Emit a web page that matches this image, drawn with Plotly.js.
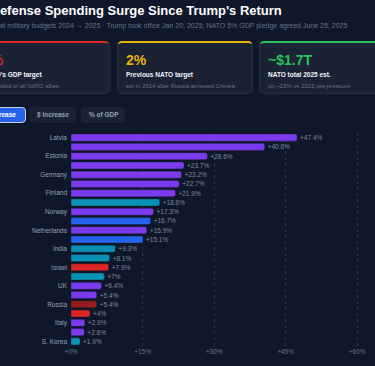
<!DOCTYPE html>
<html><head><meta charset="utf-8">
<script src="https://cdn.plot.ly/plotly-3.0.1.min.js"></script>
<style>
html,body{margin:0;padding:0;background:#0f172a;width:375px;height:366px;overflow:hidden;font-family:"Liberation Sans",Arial,sans-serif;}
#wrap{position:absolute;left:0;top:0;width:375px;height:366px;overflow:hidden;}
.title{position:absolute;left:-9.5px;top:3px;white-space:nowrap;color:#fff;font-weight:700;font-size:13px;line-height:16px;}
.sub{position:absolute;left:-9px;top:21px;white-space:nowrap;color:#64748b;font-size:7px;line-height:9px;}
.card{position:absolute;top:41px;width:136px;height:53px;box-sizing:border-box;background:#1a2234;border:1px solid #243044;border-radius:5px;}
.card .v{position:absolute;left:8px;top:9px;font-size:14px;font-weight:700;white-space:nowrap;line-height:16px;}
.card .l{position:absolute;left:8px;top:28px;font-size:6.5px;font-weight:700;color:#f1f5f9;white-space:nowrap;line-height:8px;}
.card .s{position:absolute;left:8px;top:39px;font-size:6px;color:#64748b;white-space:nowrap;line-height:8px;}
.btn{position:absolute;top:107px;height:16px;box-sizing:border-box;border-radius:4px;background:#1a2234;color:#94a3b8;font-size:6.5px;font-weight:700;line-height:16px;padding:0 8px;white-space:nowrap;}
.btn.on{background:#2563eb;color:#fff;border:1px solid #cbd5e1;line-height:14px;padding:0 7px;}
#chart{position:absolute;left:-29px;top:128px;width:430px;height:238px;}
</style></head>
<body><div id="wrap">
<div class="title">Defense Spending Surge Since Trump's Return</div>
<div class="sub">Real military budgets 2024 → 2025 · Trump took office Jan 20, 2025; NATO 5% GDP pledge agreed June 25, 2025</div>
<div class="card" style="left:-26px;border-top:2px solid #dc2626;"><div class="v" style="color:#dc2626">5%</div><div class="l">NATO's GDP target</div><div class="s">demanded of all NATO allies</div></div>
<div class="card" style="left:117px;border-top:2px solid #eab308;"><div class="v" style="color:#eab308">2%</div><div class="l">Previous NATO target</div><div class="s">set in 2014 after Russia annexed Crimea</div></div>
<div class="card" style="left:259px;border-top:2px solid #22c55e;"><div class="v" style="color:#22c55e">~$1.7T</div><div class="l">NATO total 2025 est.</div><div class="s">up ~22% vs 2022 pre-pressure</div></div>
<div class="btn on" style="left:-26px;width:52px;">% Increase</div>
<div class="btn" style="left:29px;width:47px;">$ Increase</div>
<div class="btn" style="left:81px;width:44px;">% of GDP</div>
<div id="chart"></div>
</div>
<script>
var countries = ["Latvia","Lithuania","Estonia","Poland","Germany","Sweden","Finland","Japan","Norway","Canada","Netherlands","USA","India","China","Israel","Australia","UK","France","Russia","Saudi Arabia","Italy","Spain","S. Korea"];
var increasePct = [47.4,40.6,28.6,23.7,23.2,22.7,21.9,18.6,17.3,16.7,15.9,15.1,9.3,8.1,7.9,7.0,6.4,5.4,5.4,4.0,2.9,2.8,1.9];
var groups = ["NATO Europe","NATO Europe","NATO Europe","NATO Europe","NATO Europe","NATO Europe","NATO Europe","Asia-Pacific","NATO Europe","NATO North America","NATO Europe","NATO North America","Asia-Pacific","Asia-Pacific","Middle East","Asia-Pacific","NATO Europe","NATO Europe","Russia","Middle East","NATO Europe","NATO Europe","Asia-Pacific"];
var groupColors = {"NATO Europe":"#7c3aed","NATO North America":"#2563eb","Asia-Pacific":"#0891b2","Middle East":"#dc2626","Russia":"#991b1b"};
var xTickPrefix = "+", xTickSuffix = "%";

Plotly.newPlot("chart", [{
  type: "bar", orientation: "h",
  x: increasePct, y: countries,
  marker: {color: groups.map(function(g){return groupColors[g];}), cornerradius: 2,
           line: {width: 0.6, color: "rgba(15,23,42,0.6)"}},
  width: 0.76,
  text: increasePct.map(function(v){return "+" + v + "%";}),
  textposition: "outside", cliponaxis: false,
  textfont: {color: "#7c8aa0", size: 6.5, family: "Liberation Sans"},
  hoverinfo: "none"
}], {
  paper_bgcolor: "#0f172a", plot_bgcolor: "#0f172a",
  margin: {l: 100, r: 20, t: 5.4, b: 19.6},
  showlegend: false,
  font: {family: "Liberation Sans", color: "#94a3b8"},
  xaxis: {range: [0, 65], tickmode: "linear", tick0: 0, dtick: 15,
          tickprefix: xTickPrefix, ticksuffix: xTickSuffix,
          showgrid: true, gridcolor: "#263349", griddash: "dot", gridwidth: 1,
          zeroline: false, showline: false, ticks: "",
          tickfont: {size: 6.5, color: "#64748b"}},
  yaxis: {type: "category", autorange: "reversed", tickmode: "linear", tick0: 0, dtick: 2,
          showgrid: false, zeroline: false, showline: false, ticks: "",
          ticklabelstandoff: 3,
          tickfont: {size: 6.5, color: "#94a3b8"}},
  bargap: 0.22
}, {displayModeBar: false, staticPlot: true});
</script>
</body></html>
